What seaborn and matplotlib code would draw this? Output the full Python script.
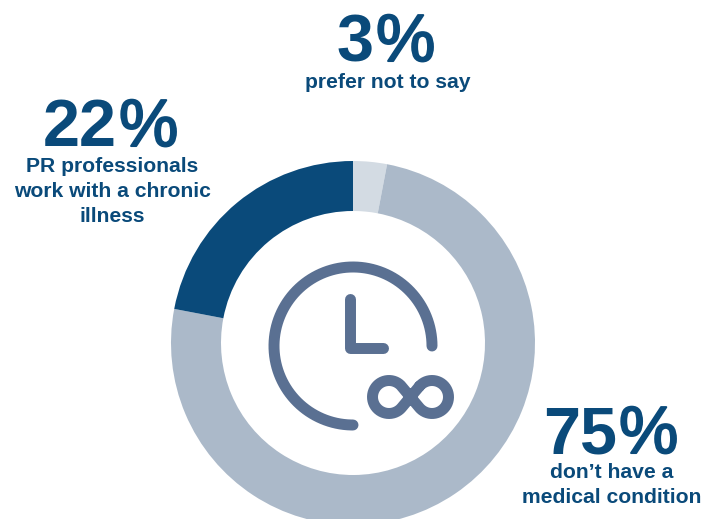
import numpy as np
import matplotlib
matplotlib.use("Agg")
import matplotlib.pyplot as plt
import matplotlib.patheffects as pe
import seaborn as sns

sns.set_theme(style="white")
plt.rcParams["font.family"] = ["Liberation Sans", "DejaVu Sans"]

shares = [3, 75, 22]
headlines = ["3", "22", "75"]
captions = ["prefer not to say", "PR professionals\nwork with a chronic\nillness", "don’t have a\nmedical condition"]
slice_colors = ["#D3DBE3", "#ABB9C9", "#0A4A7A"]
NAVY = "#0A4A7A"
ICON = "#5A7092"

fig = plt.figure(figsize=(7.10, 5.19), dpi=100, facecolor="white")
ax = fig.add_axes([0, 0, 1, 1])

# Ring, running clockwise from twelve o'clock
ax.pie(shares, colors=slice_colors, startangle=90, counterclock=False,
       center=(353, -343), radius=182, frame=True,
       wedgeprops=dict(width=50, linewidth=0))
ax.set_xlim(0, 710)
ax.set_ylim(-519, 0)
ax.set_aspect("equal")
ax.axis("off")

# Clock icon
cx, cy, r = 353, -346, 79
theta = np.radians(np.linspace(0, 270, 200))
ax.plot(cx + r * np.cos(theta), cy + r * np.sin(theta), color=ICON, lw=7.9,
        solid_capstyle="round")
ax.plot([350, 350, 383], [-299, -348, -348], color=ICON, lw=7.9,
        solid_capstyle="round", solid_joinstyle="round")

# Infinity sign: two round loops joined by straight strokes through the middle
loop_r, loop_d = 16.5, 21.5
a = np.radians(np.linspace(140, -140, 120))
b = np.radians(np.linspace(40, 320, 120))
ix = np.r_[loop_d + loop_r * np.cos(a), -loop_d + loop_r * np.cos(b)]
iy = np.r_[loop_r * np.sin(a), loop_r * np.sin(b)]
ix, iy = np.r_[ix, ix[0]], np.r_[iy, iy[0]]
ax.plot(410.5 + ix, -397 + iy, color=ICON, lw=7.9, solid_joinstyle="round")

# Headline figures (bold digits, lighter percent sign) and captions
def label(x_split, x_cap, y_head, y_cap, head, cap):
    ax.text(x_split - 1, -y_head, head, color=NAVY, fontsize=48, fontweight="bold",
            ha="right", va="baseline")
    ax.text(x_split + 1, -y_head, "%", color=NAVY, fontsize=48, fontweight="normal",
            ha="left", va="baseline",
            path_effects=[pe.withStroke(linewidth=1.5, foreground=NAVY)])
    for i, line in enumerate(cap.split("\n")):
        ax.text(x_cap, -(y_cap + 25 * i), line, color=NAVY, fontsize=15.2,
                fontweight="bold", ha="center", va="baseline")

label(375, 388, 61, 88, headlines[0], captions[0])
label(118, 112, 146, 172, headlines[1], captions[1])
label(618, 612, 453, 478, headlines[2], captions[2])

fig.savefig("out.png", dpi=100)
